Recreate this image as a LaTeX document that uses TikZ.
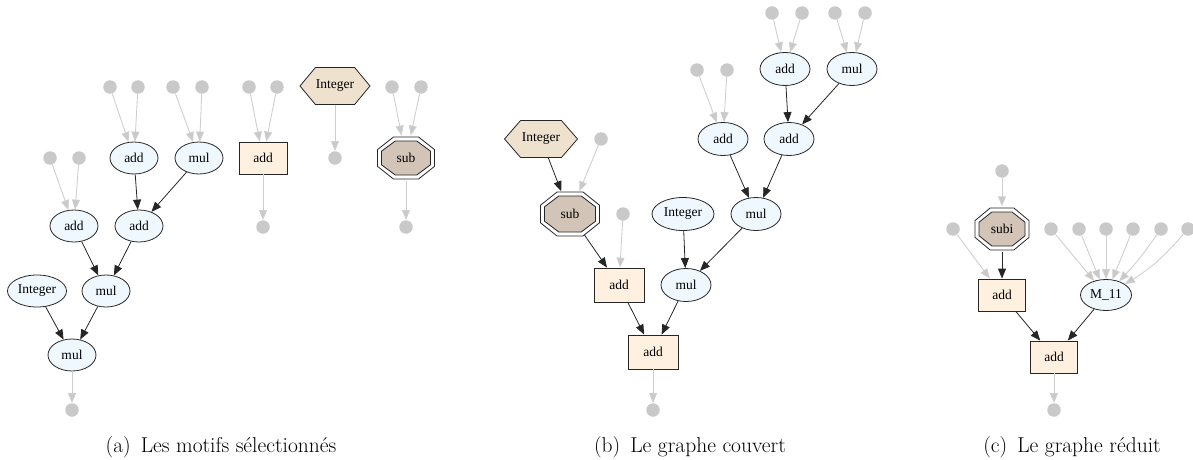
\documentclass[tikz,border=0pt]{standalone}
\usepackage{fontspec}
\newfontfamily\nodefont{Liberation Serif}
\usetikzlibrary{shapes.geometric,arrows.meta}
\definecolor{ellfill}{HTML}{F0F8FF}
\definecolor{boxfill}{HTML}{FFF0DF}
\definecolor{hexfill}{HTML}{EEE2CF}
\definecolor{octfill}{HTML}{D2C4B6}
\definecolor{dotgray}{HTML}{C9C9C9}
\definecolor{edgegray}{HTML}{CFCFCF}
\definecolor{lineblk}{HTML}{262626}
\tikzset{
  nodeline/.style={draw=lineblk, line width=0.8pt},
  nfont/.style={font={\nodefont\fontsize{13.5}{15}\selectfont}},
  ell/.style={ellipse, nodeline, fill=ellfill, inner sep=0pt, minimum width=50, minimum height=33, nfont},
  ella/.style={ell, minimum width=48, minimum height=32},
  opbox/.style={rectangle, nodeline, fill=boxfill, inner sep=0pt, minimum width=49, minimum height=33, nfont},
  gdot/.style={circle, fill=dotgray, draw=none, inner sep=0pt, minimum size=13.5},
  hexanchor/.style={rectangle, draw=none, inner sep=0pt, minimum height=37, nfont},
  octanchor/.style={ellipse, draw=none, inner sep=0pt, nfont},
  bedge/.style={draw=lineblk, line width=0.8pt, -{Triangle[length=10pt,width=8pt]}},
  gedge/.style={draw=edgegray, line width=0.9pt, -{Triangle[length=10pt,width=8pt,fill=dotgray]}},
  capt/.style={anchor=base, inner sep=0pt, font=\fontsize{21.5}{25}\selectfont}
}
\newcommand{\hexnode}[5]{%
  \begin{scope}[shift={(#2,#3)}]
    \draw[nodeline,fill=hexfill] ({-#4/2},0) -- ({-0.28*#4},-18.5) -- ({0.28*#4},-18.5) -- ({#4/2},0) -- ({0.28*#4},18.5) -- ({-0.28*#4},18.5) -- cycle;
  \end{scope}
  \node[hexanchor, minimum width=#4] (#1) at (#2,#3) {#5};
}
\newcommand{\octnode}[6]{%
  \begin{scope}[shift={(#2,#3)}]
    \draw[nodeline,fill=white] ({-#4/2},{-0.2*#5}) -- ({-#4/2},{0.2*#5}) -- ({-0.22*#4},{#5/2}) -- ({0.22*#4},{#5/2}) -- ({#4/2},{0.2*#5}) -- ({#4/2},{-0.2*#5}) -- ({0.22*#4},{-#5/2}) -- ({-0.22*#4},{-#5/2}) -- cycle;
    \draw[nodeline,fill=octfill] ({-(#4-8)/2},{-0.2*(#5-8)}) -- ({-(#4-8)/2},{0.2*(#5-8)}) -- ({-0.22*(#4-8)},{(#5-8)/2}) -- ({0.22*(#4-8)},{(#5-8)/2}) -- ({(#4-8)/2},{0.2*(#5-8)}) -- ({(#4-8)/2},{-0.2*(#5-8)}) -- ({0.22*(#4-8)},{-(#5-8)/2}) -- ({-0.22*(#4-8)},{-(#5-8)/2}) -- cycle;
  \end{scope}
  \node[octanchor, minimum width=#4+3, minimum height=#5+3] (#1) at (#2,#3) {#6};
}
\begin{document}
\begin{tikzpicture}[x=1pt,y=-1pt]
\useasboundingbox (0,0) rectangle (1193,460);

% ---------------- panel (a) ----------------
\node[gdot] (ad1) at (110,87) {};
\node[gdot] (ad2) at (138,87) {};
\node[gdot] (ad3) at (173,87) {};
\node[gdot] (ad4) at (202,87) {};
\node[gdot] (ad5) at (249,87) {};
\node[gdot] (ad6) at (277,87) {};
\hexnode{ahex}{335}{86}{70}{Integer}
\node[gdot] (ad7) at (392,87) {};
\node[gdot] (ad8) at (421,87) {};
\node[ella] (aadd1) at (134,158) {add};
\node[ella] (amul1) at (199,158) {mul};
\node[opbox, minimum width=48, minimum height=32] (abox) at (263,158) {add};
\node[gdot] (ad9) at (335,158) {};
\octnode{asub}{406}{158}{57}{42}{sub}
\node[gdot] (ad10) at (263,227) {};
\node[gdot] (ad11) at (406,227) {};
\node[gdot] (ad12) at (50,158) {};
\node[gdot] (ad13) at (79,158) {};
\node[ella] (aadd2) at (74,226) {add};
\node[ella] (aadd3) at (139,226) {add};
\node[ella, minimum width=59] (aint) at (37,291) {Integer};
\node[ella] (amul2) at (106,291) {mul};
\node[ella] (amul3) at (72,355) {mul};
\node[gdot] (ad14) at (72,410) {};

\draw[gedge] (ad1) -- (aadd1);
\draw[gedge] (ad2) -- (aadd1);
\draw[gedge] (ad3) -- (amul1);
\draw[gedge] (ad4) -- (amul1);
\draw[gedge] (ad5) -- (abox);
\draw[gedge] (ad6) -- (abox);
\draw[gedge] (ahex) -- (ad9);
\draw[gedge] (ad7) -- (asub);
\draw[gedge] (ad8) -- (asub);
\draw[gedge] (abox) -- (ad10);
\draw[gedge] (asub) -- (ad11);
\draw[gedge] (ad12) -- (aadd2);
\draw[gedge] (ad13) -- (aadd2);
\draw[bedge] (aadd1) -- (aadd3);
\draw[bedge] (amul1) -- (aadd3);
\draw[bedge] (aadd2) -- (amul2);
\draw[bedge] (aadd3) -- (amul2);
\draw[bedge] (aint) -- (amul3);
\draw[bedge] (amul2) -- (amul3);
\draw[gedge] (amul3) -- (ad14);

% ---------------- panel (b) ----------------
\node[gdot] (bd1) at (772,13) {};
\node[gdot] (bd2) at (802,13) {};
\node[gdot] (bd3) at (835,13) {};
\node[gdot] (bd4) at (865,13) {};
\node[ell] (badd1) at (785,69) {add};
\node[ell] (bmul1) at (852,69) {mul};
\node[gdot] (bd5) at (697,70) {};
\node[gdot] (bd6) at (727,70) {};
\node[ell] (badd2) at (723,139) {add};
\node[ell] (badd3) at (789,139) {add};
\hexnode{bhex}{541}{139}{73}{Integer}
\node[gdot] (bd7) at (601,139) {};
\octnode{bsub}{570}{214}{59}{44}{sub}
\node[gdot] (bd8) at (623,214) {};
\node[ell, minimum width=62] (bint) at (683,214) {Integer};
\node[ell] (bmul2) at (756,214) {mul};
\node[opbox, minimum width=50, minimum height=34] (bbox1) at (619,285) {add};
\node[ell] (bmul3) at (686,285) {mul};
\node[opbox, minimum width=50, minimum height=34] (bbox2) at (653,352) {add};
\node[gdot] (bd9) at (653,410) {};

\draw[gedge] (bd1) -- (badd1);
\draw[gedge] (bd2) -- (badd1);
\draw[gedge] (bd3) -- (bmul1);
\draw[gedge] (bd4) -- (bmul1);
\draw[gedge] (bd5) -- (badd2);
\draw[gedge] (bd6) -- (badd2);
\draw[bedge] (badd1) -- (badd3);
\draw[bedge] (bmul1) -- (badd3);
\draw[bedge] (badd2) -- (bmul2);
\draw[bedge] (badd3) -- (bmul2);
\draw[bedge] (bhex) -- (bsub);
\draw[gedge] (bd7) -- (bsub);
\draw[bedge] (bsub) -- (bbox1);
\draw[gedge] (bd8) -- (bbox1);
\draw[bedge] (bint) -- (bmul3);
\draw[bedge] (bmul2) -- (bmul3);
\draw[bedge] (bbox1) -- (bbox2);
\draw[bedge] (bmul3) -- (bbox2);
\draw[gedge] (bbox2) -- (bd9);

% ---------------- panel (c) ----------------
\node[gdot] (cd1) at (1002,171) {};
\octnode{csub}{1002}{229}{54}{42}{subi}
\node[gdot] (cd2) at (953,229) {};
\node[gdot] (cd3) at (1051,229) {};
\node[gdot] (cd4) at (1079,229) {};
\node[gdot] (cd5) at (1106,229) {};
\node[gdot] (cd6) at (1133,229) {};
\node[gdot] (cd7) at (1161,229) {};
\node[gdot] (cd8) at (1188,229) {};
\node[opbox, minimum width=47, minimum height=32] (cbox1) at (1002,295) {add};
\node[ell, minimum width=51, minimum height=31] (cm) at (1106,295) {M\_11};
\node[opbox, minimum width=47, minimum height=32] (cbox2) at (1054,357) {add};
\node[gdot] (cd9) at (1054,410) {};

\draw[gedge] (cd1) -- (csub);
\draw[bedge] (csub) -- (cbox1);
\draw[gedge] (cd2) -- (cbox1);
\draw[gedge] (cd3) -- (cm);
\draw[gedge] (cd4) -- (cm);
\draw[gedge] (cd5) -- (cm);
\draw[gedge] (cd6) -- (cm);
\draw[gedge] (cd7) to[bend left=4] (cm);
\draw[gedge] (cd8) to[bend left=9] (cm);
\draw[bedge] (cbox1) -- (cbox2);
\draw[bedge] (cm) -- (cbox2);
\draw[gedge] (cbox2) -- (cd9);

% ---------------- captions ----------------
\node[capt] (capa) at (221,452) {(a)\, Les motifs sélectionnés};
\node[capt] (capb) at (690,452) {(b)\, Le graphe couvert};
\node[capt] (capc) at (1072,452) {(c)\, Le graphe réduit};
\end{tikzpicture}
\end{document}
